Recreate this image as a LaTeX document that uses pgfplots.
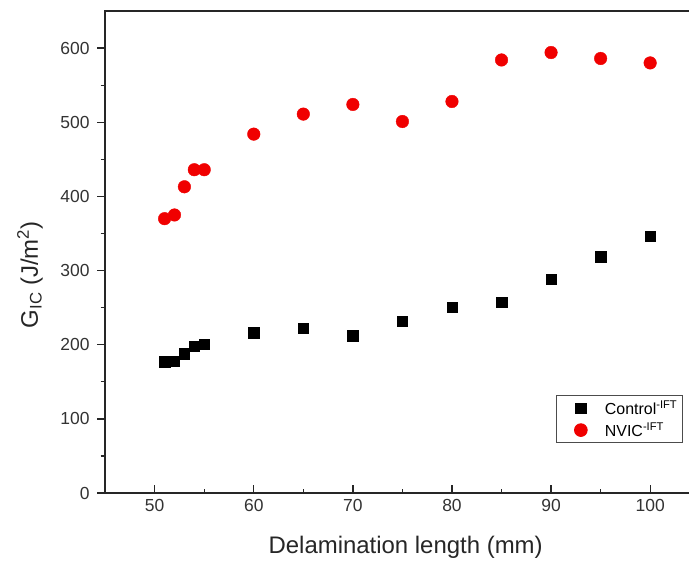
\documentclass[border=0pt]{standalone}
\usepackage{pgfplots}
\pgfplotsset{compat=1.18}
\usepackage{fontspec}
\setmainfont{Liberation Sans}
\definecolor{ptred}{RGB}{240,0,0}
\begin{document}
\begin{tikzpicture}
\begin{axis}[
  scale only axis, width=584bp, height=481.5bp,
  xmin=45, xmax=104, ymin=0, ymax=650,
  xtick={50,60,...,100}, ytick={0,100,...,600},
  minor xtick={55,65,...,95}, minor ytick={50,150,...,550},
  xtick pos=left, ytick pos=left,
  tick align=inside,
  major tick length=8bp, minor tick length=4.5bp,
  every major y tick/.append style={xshift=-8bp},
  every minor y tick/.append style={xshift=-4.5bp},
  axis line style={line width=1.3bp, black!85},
  tick style={line width=1.3bp, black!85},
  /pgf/number format/assume math mode=true,
  ticklabel style={font=\fontsize{17.5}{20}\selectfont, text=black!80},
  yticklabel style={xshift=-12bp},
  xticklabel style={yshift=-3bp},
  xlabel={Delamination length (mm)},
  ylabel={G\textsubscript{IC} (J/m\textsuperscript{2})},
  label style={font=\fontsize{24}{27}\selectfont, text=black!85},
  xlabel style={at={(axis description cs:0.514,0)}, anchor=base, yshift=-60.5bp},
  ylabel style={at={(axis description cs:-0.1284,0.453)}, anchor=center},
  legend style={at={(axis description cs:0.988,0.2025)}, anchor=north east,
    draw=black!70, line width=1bp, font=\fontsize{16}{19}\selectfont,
    inner xsep=3bp, inner ysep=3bp, row sep=2bp},
  legend image code/.code={\path[draw=none,fill=none] (0bp,-5bp) rectangle (43bp,5bp);
    \draw[#1] plot coordinates {(21bp,0bp)};},
  legend cell align=left,
]
\addplot[only marks, mark=square*, mark size=5.2bp, black] table {
x y
51 177
52 178
53 188
54 198
55 201
60 216
65 222
70 212
75 232
80 251
85 257
90 288
95 319
100 346
};
\addlegendentry{Control\textsuperscript{-IFT}}
\addplot[only marks, mark=*, mark size=6.3bp, ptred] table {
x y
51 370
52 375
53 413
54 436
55 436
60 484
65 511
70 524
75 501
80 528
85 584
90 594
95 586
100 580
};
\addlegendentry{NVIC\textsuperscript{-IFT}}
\end{axis}
\pgfresetboundingbox
\path[use as bounding box] ([xshift=-105bp,yshift=-72.5bp]current axis.south west) rectangle ([xshift=-0.8bp,yshift=11bp]current axis.north east);
\end{tikzpicture}
\end{document}
